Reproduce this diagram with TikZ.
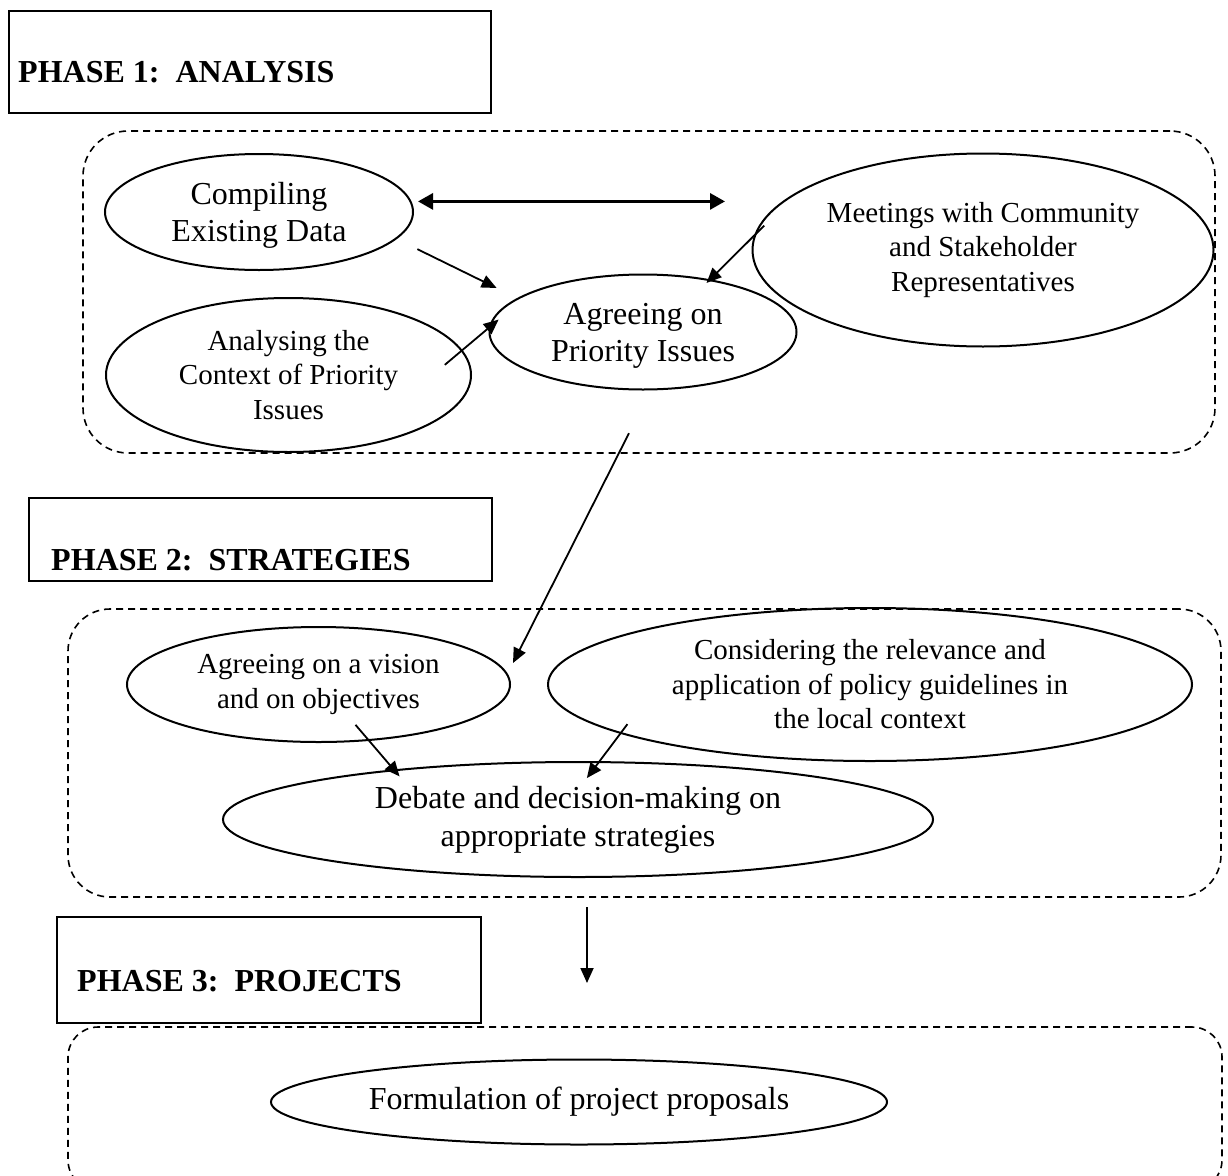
\documentclass[tikz,border=0pt]{standalone}
\usepackage{fontspec}
\setmainfont{Liberation Serif}
\usepackage{tikz}
\usetikzlibrary{arrows.meta,shapes.geometric,calc}
\tikzset{
  phasebox/.style={rectangle, draw, line width=2pt, inner sep=0pt, outer sep=0pt, anchor=north west},
  phasetitle/.style={anchor=base west, inner sep=0pt, font=\fontsize{32}{38}\selectfont\bfseries},
  grpbox/.style={rectangle, draw, dash pattern=on 7pt off 5pt, line width=1.6pt, rounded corners=#1,
                 inner sep=0pt, outer sep=0pt, anchor=north west},
  stage/.style={ellipse, draw, line width=2pt, inner sep=0pt, outer sep=0pt, align=center},
  bigtxt/.style={font=\fontsize{32}{37}\selectfont},
  smalltxt/.style={font=\fontsize{29}{34.5}\selectfont},
  arr/.style={-{Triangle[length=15pt,width=13pt]}, line width=1.8pt},
  biarr/.style={{Triangle[length=15pt,width=16pt]}-{Triangle[length=15pt,width=16pt]}, line width=3pt},
}
\begin{document}
\begin{tikzpicture}[x=1pt, y=-1pt]
        \useasboundingbox (0,0) rectangle (1228,1175);
        % phase 1
        \node[phasebox, minimum width=482pt, minimum height=102pt] (p1) at (9,11) {};
        \node[phasetitle] (t1) at ([xshift=9pt, yshift=31pt]p1.south west) {PHASE 1:\ \ ANALYSIS};
        \node[grpbox=45pt, minimum width=1132pt, minimum height=322pt] (g1) at (83,131) {};
        \node[stage, bigtxt, text depth=0pt, minimum width=308pt, minimum height=116pt] (compile) at (259,212) {Compiling\\Existing Data};
        \node[stage, smalltxt, minimum width=365pt, minimum height=154pt] (analyse) at (288.5,375) {Analysing the\\Context of Priority\\Issues};
        \node[stage, bigtxt, text depth=0pt, minimum width=307pt, minimum height=115pt] (agree) at (643,332) {Agreeing on\\Priority Issues};
        \node[stage, smalltxt, minimum width=461pt, minimum height=193pt] (meet) at (983,250) {Meetings with Community\\and Stakeholder\\Representatives};
        \coordinate (bi) at (725,202);
        \draw[biarr, shorten <=7.6pt] (compile.4) -- (compile.4 -| bi);
        \draw[arr, shorten <=24pt, shorten >=24pt] (compile.-11.3) -- (agree.165.7);
        \draw[arr, shorten <=-22pt, shorten >=-11pt] (analyse.8.7) -- (agree.178.9);
        \draw[arr, shorten <=-12pt, shorten >=-4pt] (meet.176.1) -- (agree.38.2);
        % phase 2
        \node[phasebox, minimum width=463pt, minimum height=83pt] (p2) at (29,498) {};
        \node[phasetitle] (t2) at ([xshift=22pt, yshift=11pt]p2.south west) {PHASE 2:\ \ STRATEGIES};
        \node[grpbox=42pt, minimum width=1153pt, minimum height=288pt] (g2) at (68,609) {};
        \node[stage, smalltxt, minimum width=383pt, minimum height=115pt] (vision) at (318.5,684.5) {Agreeing on a vision\\and on objectives};
        \node[stage, smalltxt, minimum width=644pt, minimum height=153pt] (consider) at (870,684.5) {Considering the relevance and\\application of policy guidelines in\\the local context};
        \node[stage, bigtxt, minimum width=710pt, minimum height=115pt, font=\fontsize{32}{38}\selectfont] (debate) at (578,819.5) {Debate and decision-making on\\appropriate strategies};
        \draw[arr, shorten <=49pt, shorten >=13pt] (agree.-82.2) -- (vision.3);
        \draw[arr, shorten <=-20pt, shorten >=-8pt] (vision.-48.2) -- (debate.165.6);
        \draw[arr, shorten <=-11pt, shorten >=-20pt] (consider.-169.1) -- (debate.70.3);
        % phase 3
        \node[phasebox, minimum width=424pt, minimum height=106pt] (p3) at (57,917) {};
        \node[phasetitle] (t3) at ([xshift=20pt, yshift=32pt]p3.south west) {PHASE 3:\ \ PROJECTS};
        \node[grpbox=30pt, minimum width=1154pt, minimum height=163pt] (g3) at (68,1027) {};
        \node[stage, bigtxt, minimum width=616pt, minimum height=85pt] (formul) at (579,1102) {Formulation of project proposals};
        \coordinate (down) at (587,983);
        \draw[arr, shorten <=10pt] (g2.south -| down) -- (down);
      \end{tikzpicture}
\end{document}
